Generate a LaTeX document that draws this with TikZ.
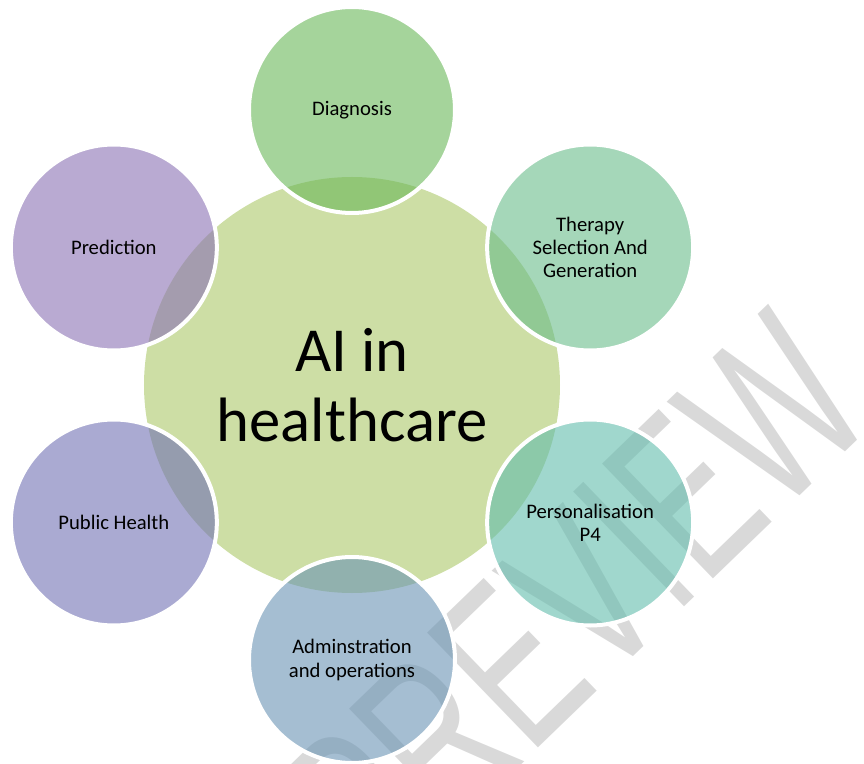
\documentclass[tikz,border=0pt]{standalone}
\usepackage{fontspec}
\usepackage{graphicx}
\setmainfont{Carlito}
\newfontfamily\wmfont{Liberation Sans}
\usetikzlibrary{positioning}

\definecolor{hubgreen}{RGB}{205,222,165}
\definecolor{diagcol}{RGB}{105,183,88}
\definecolor{thercol}{RGB}{105,188,138}
\definecolor{perscol}{RGB}{97,188,172}
\definecolor{admcol}{RGB}{105,147,180}
\definecolor{pubcol}{RGB}{113,113,180}
\definecolor{predcol}{RGB}{138,113,180}

\begin{document}
\begin{tikzpicture}[x=0.75pt,y=0.75pt,
        hub/.style={circle,fill=hubgreen,minimum size=312pt,inner sep=0pt,
            align=center,font=\fontsize{47}{52.5}\selectfont},
        sat/.style={circle,draw=white,line width=3pt,fill opacity=0.6,
            draw opacity=1,text opacity=1,minimum size=154.5pt,inner sep=0pt,
            align=center,font=\fontsize{15.5}{17.5}\selectfont}]

    \useasboundingbox (-352,-379) rectangle (512,385);

    % watermark behind everything
    \node[rotate=44,inner sep=0pt,text=black!15,
        font=\wmfont\fontsize{174}{174}\selectfont] (wm) at (222,-218)
        {\scalebox{0.65}[1]{PREVIEW}};

    \node[hub] (ai) at (0,0) {AI in\\healthcare};

    \node[sat,fill=diagcol] (diag) at (90:275)  {Diagnosis};
    \node[sat,fill=thercol] (ther) at (30:275)  {Therapy\\Selection And\\Generation};
    \node[sat,fill=perscol] (pers) at (-30:275) {Personalisation\\P4};
    \node[sat,fill=admcol]  (adm)  at (-90:275) {Adminstration\\and operations};
    \node[sat,fill=pubcol]  (pub)  at (-150:275) {Public Health};
    \node[sat,fill=predcol] (pred) at (150:275) {Prediction};

\end{tikzpicture}
\end{document}
